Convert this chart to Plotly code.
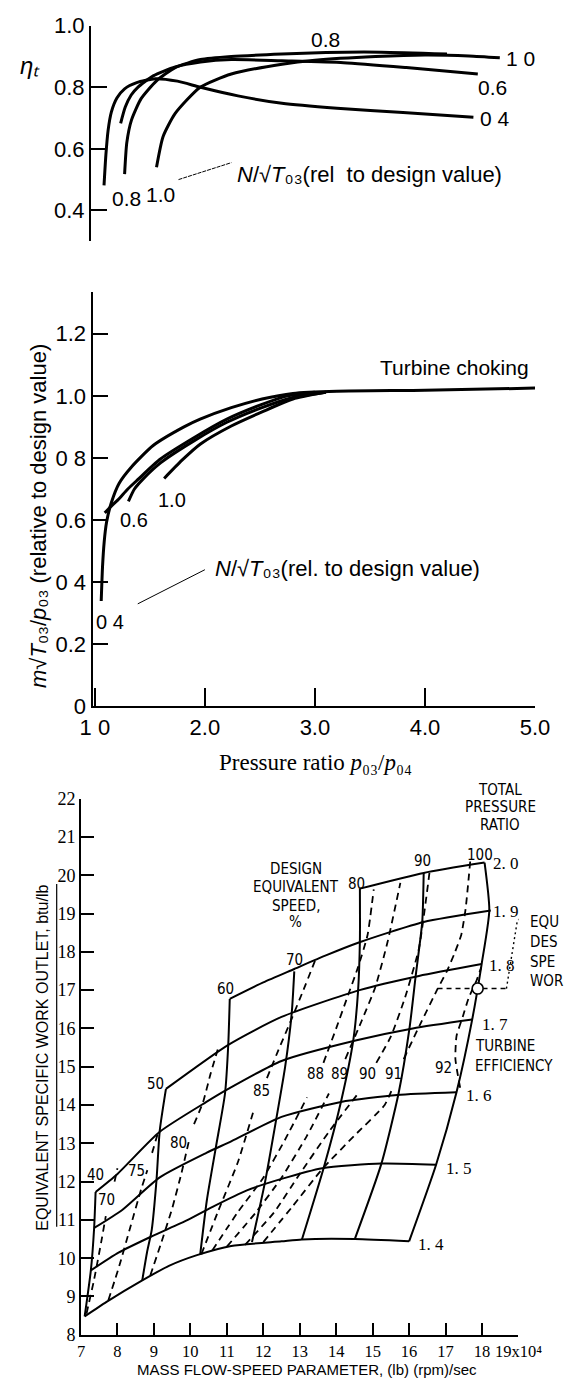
import plotly.graph_objects as go

W, H = 574, 1391

# ---------------- Panel 1: efficiency vs pressure ratio ----------------
eff_04_x = [1.083, 1.10, 1.12, 1.15, 1.20, 1.27, 1.38, 1.55, 1.75, 1.96, 2.3, 2.7, 3.2, 3.8, 4.44]
eff_04_y = [0.481, 0.58, 0.66, 0.72, 0.765, 0.795, 0.815, 0.828, 0.82, 0.80, 0.772, 0.748, 0.732, 0.718, 0.703]
eff_06_x = [1.234, 1.276, 1.33, 1.39, 1.53, 1.73, 1.96, 2.24, 2.7, 3.26, 3.83, 4.48]
eff_06_y = [0.683, 0.736, 0.775, 0.80, 0.837, 0.866, 0.882, 0.89, 0.886, 0.88, 0.864, 0.843]
eff_08_x = [1.27, 1.29, 1.333, 1.42, 1.56, 1.73, 1.96, 2.24, 2.7, 3.1, 3.6, 4.2]
eff_08_y = [0.518, 0.62, 0.694, 0.763, 0.821, 0.864, 0.89, 0.90, 0.908, 0.913, 0.914, 0.908]
eff_10_x = [1.56, 1.62, 1.73, 1.957, 2.24, 2.70, 3.0, 3.55, 4.0, 4.4, 4.68]
eff_10_y = [0.54, 0.64, 0.715, 0.80, 0.843, 0.875, 0.888, 0.90, 0.905, 0.902, 0.896]

# ---------------- Panel 2: mass flow vs pressure ratio ----------------
flow_04_x = [1.058, 1.07, 1.085, 1.106, 1.149, 1.22, 1.333, 1.53, 1.81, 1.957, 2.24, 2.52, 2.8, 3.2, 4.0, 5.0]
flow_04_y = [0.339, 0.45, 0.53, 0.592, 0.655, 0.718, 0.771, 0.84, 0.90, 0.925, 0.962, 0.99, 1.008, 1.015, 1.018, 1.025]
flow_05_x = [1.09, 1.15, 1.21, 1.30, 1.39, 1.59, 1.9, 2.2, 2.5, 2.75, 3.0]
flow_05_y = [0.623, 0.645, 0.665, 0.70, 0.73, 0.795, 0.865, 0.925, 0.97, 1.0, 1.012]
flow_06_x = [1.305, 1.36, 1.446, 1.6, 1.9, 2.2, 2.5, 2.8, 3.1]
flow_06_y = [0.66, 0.70, 0.735, 0.785, 0.855, 0.915, 0.96, 0.995, 1.012]
flow_10_x = [1.63, 1.79, 1.96, 2.24, 2.53, 2.8, 3.1]
flow_10_y = [0.734, 0.792, 0.845, 0.903, 0.95, 0.99, 1.012]

# ---------------- Panel 3: turbine map ----------------
# constant total-pressure-ratio lines (solid)
pr_labels = ["1. 4", "1. 5", "1. 6", "1. 7", "1. 8", "1. 9", "2. 0"]
pr_14 = ([7.10, 7.70, 8.68, 9.41, 10.18, 11.12, 12.50, 13.06, 14.51, 16.0],
         [8.48, 8.86, 9.42, 9.80, 10.08, 10.32, 10.44, 10.49, 10.50, 10.44])
pr_15 = ([7.27, 8.04, 8.94, 9.93, 10.61, 11.55, 12.50, 13.62, 15.24, 16.74],
         [9.68, 10.15, 10.57, 11.0, 11.34, 11.77, 12.07, 12.35, 12.47, 12.44])
pr_16 = ([7.36, 8.13, 9.16, 10.44, 11.12, 12.5, 14.13, 15.67, 17.30],
         [10.79, 11.26, 12.11, 12.75, 13.05, 13.69, 14.08, 14.26, 14.33])
pr_17 = ([7.40, 8.0, 9.16, 10.44, 11.04, 12.5, 14.56, 16.10, 17.73],
         [11.73, 12.2, 13.3, 14.08, 14.42, 15.15, 15.69, 16.0, 16.23])
pr_18 = ([9.33, 11.04, 12.50, 14.64, 16.27, 17.99],
         [14.42, 15.57, 16.3, 17.0, 17.37, 17.68])
pr_19 = ([11.08, 12.0, 12.85, 13.7, 14.64, 16.40, 18.24],
         [16.77, 17.2, 17.55, 17.9, 18.25, 18.78, 19.08])
pr_20 = ([14.65, 16.40, 18.07],
         [19.65, 20.06, 20.33])

# constant speed lines (solid), % of design equivalent speed
speed_labels = ["40", "50", "60", "70", "80", "90", "100"]
sp_40 = ([7.10, 7.27, 7.36, 7.40], [8.48, 9.68, 10.79, 11.73])
sp_50 = ([8.68, 8.81, 8.94, 9.07, 9.16, 9.33], [9.42, 10.15, 10.74, 12.03, 13.33, 14.42])
sp_60 = ([10.27, 10.45, 10.7, 10.95, 11.04, 11.08], [10.1, 11.5, 12.9, 14.3, 15.6, 16.77])
sp_70 = ([11.69, 12.05, 12.35, 12.6, 12.78, 12.85], [10.42, 12.0, 13.6, 15.0, 16.4, 17.49])
sp_80 = ([13.06, 13.66, 14.13, 14.47, 14.60, 14.65, 14.65], [10.49, 12.37, 14.08, 15.70, 16.98, 18.3, 19.65])
sp_90 = ([14.51, 15.24, 15.71, 16.01, 16.18, 16.36, 16.40], [10.5, 12.47, 14.3, 16.0, 17.37, 18.78, 20.06])
sp_100 = ([16.0, 16.74, 17.30, 17.73, 17.99, 18.2, 18.07], [10.44, 12.44, 14.33, 16.23, 17.68, 19.08, 20.33])

# turbine efficiency contours (dashed); each split where its label sits
eff_labels = ["70", "75", "80", "85", "88", "89", "90", "91", "92"]
ef_70 = [([7.15, 7.35, 7.55, 7.68], [8.55, 9.4, 10.4, 11.1]),
         ([7.92, 8.0], [12.0, 12.35])]
ef_75 = [([7.75, 8.05, 8.35, 8.65, 8.82], [8.9, 9.8, 10.8, 11.8, 12.3]),
         ([8.95, 9.12], [12.75, 13.3])]
ef_80 = [([8.9, 9.2, 9.5, 9.75, 9.97], [9.55, 10.4, 11.3, 12.2, 13.1]),
         ([10.1, 10.35, 10.55, 10.75], [13.5, 14.08, 14.8, 15.45])]
ef_85 = [([10.3, 10.75, 11.3, 11.75], [10.1, 11.2, 12.5, 13.9]),
         ([12.1, 12.4, 12.76, 13.1, 13.45], [14.7, 15.4, 16.21, 17.0, 17.84])]
ef_88 = [([10.6, 11.3, 12.0, 12.6, 13.2], [10.2, 11.2, 12.1, 13.1, 14.2]),
         ([13.65, 14.0, 14.3, 14.6, 14.86, 15.03], [15.1, 16.0, 16.8, 17.6, 18.44, 19.63])]
ef_89 = [([11.0, 11.8, 12.5, 13.2, 13.8], [10.3, 11.2, 12.1, 13.2, 14.3]),
         ([14.25, 14.7, 15.07, 15.41, 15.76], [15.2, 16.2, 17.07, 18.26, 19.8])]
ef_90 = [([11.5, 12.3, 13.0, 13.8, 14.6], [10.35, 11.2, 12.2, 13.3, 14.3]),
         ([15.1, 15.5, 15.89, 16.27, 16.57], [15.1, 15.79, 16.81, 18.09, 20.15])]
ef_91 = [([12.0, 12.8, 13.62, 14.5, 15.33, 15.55], [10.42, 11.35, 12.33, 13.2, 14.0, 14.45]),
         ([15.85, 16.3, 16.78, 17.04, 17.25, 17.43, 17.55, 17.68],
          [15.2, 16.1, 17.03, 17.5, 17.97, 18.44, 19.12, 20.4])]
ef_92 = [([17.40, 17.27, 17.3, 17.47, 17.64, 17.85, 17.98], [14.45, 15.2, 15.8, 16.3, 16.81, 17.25, 17.6])]

# design point
design_x, design_y = [17.88], [17.04]

fig = go.Figure()
BLK = "black"


def line(x, y, xa, ya, width=2.6, dash="solid", smooth=0.6):
    fig.add_trace(go.Scatter(x=x, y=y, mode="lines", xaxis=xa, yaxis=ya,
                             line=dict(color=BLK, width=width, dash=dash, shape="spline", smoothing=smooth),
                             hoverinfo="skip", showlegend=False))


for xs, ys in [(eff_04_x, eff_04_y), (eff_06_x, eff_06_y), (eff_08_x, eff_08_y), (eff_10_x, eff_10_y)]:
    line(xs, ys, "x", "y", 3.0)
for xs, ys in [(flow_04_x, flow_04_y), (flow_05_x, flow_05_y), (flow_06_x, flow_06_y), (flow_10_x, flow_10_y)]:
    line(xs, ys, "x2", "y2", 3.0)
for xs, ys in [pr_14, pr_15, pr_16, pr_17, pr_18, pr_19, pr_20,
               sp_40, sp_50, sp_60, sp_70, sp_80, sp_90, sp_100]:
    line(xs, ys, "x3", "y3", 2.0)
for contour in [ef_70, ef_75, ef_80, ef_85, ef_88, ef_89, ef_90, ef_91, ef_92]:
    for xs, ys in contour:
        line(xs, ys, "x3", "y3", 1.8, "7px,5px", 0.5)

# design point connector (equivalent design speed work)
fig.add_trace(go.Scatter(x=[16.78, 18.67], y=[17.04, 17.04], mode="lines", xaxis="x3", yaxis="y3",
                         line=dict(color=BLK, width=1.4, dash="5px,4px"), hoverinfo="skip", showlegend=False))
fig.add_trace(go.Scatter(x=[18.67, 18.97, 19.1], y=[17.04, 18.82, 18.9], mode="lines", xaxis="x3", yaxis="y3",
                         line=dict(color=BLK, width=1.4, dash="2px,3px"), hoverinfo="skip", showlegend=False,
                         cliponaxis=False))
fig.add_trace(go.Scatter(x=design_x, y=design_y, mode="markers", xaxis="x3", yaxis="y3",
                         marker=dict(size=11, color="white", line=dict(color=BLK, width=1.6)),
                         hoverinfo="skip", showlegend=False))


def px2paper_x(px):
    return px / W


def py2paper_y(py):
    return 1 - py / H


FS = "Liberation Sans, Arial, sans-serif"
NARROW = "Liberation Sans Narrow, DejaVu Sans Condensed, Liberation Sans, Arial, sans-serif"
SERIF = "Liberation Serif, Times New Roman, serif"

axcommon = dict(showgrid=False, zeroline=False, showline=True, linecolor=BLK, linewidth=2,
                ticks="inside", tickcolor=BLK, tickwidth=2, mirror=False, tickangle=0)

fig.update_layout(
    width=W, height=H, margin=dict(l=0, r=0, t=0, b=0),
    paper_bgcolor="white", plot_bgcolor="rgba(0,0,0,0)",
    showlegend=False,
    xaxis=dict(domain=[px2paper_x(83.3), px2paper_x(558)], range=[0.964, 5.0], visible=False, anchor="y"),
    yaxis=dict(domain=[py2paper_y(233), py2paper_y(14)], range=[0.301, 1.0], anchor="x",
               tickvals=[0.4, 0.6, 0.8, 1.0], ticktext=["0.4", "0.6", "0.8", "1.0"], ticklen=16,
               tickfont=dict(family=FS, size=22, color=BLK), **axcommon),
    xaxis2=dict(domain=[px2paper_x(85), px2paper_x(558)], range=[0.979, 5.0], anchor="y2",
                tickvals=[1, 2, 3, 4, 5], ticktext=["1 0", "2.0", "3.0", "4.0", "5.0"], ticklen=18,
                tickfont=dict(family=FS, size=22, color=BLK), **axcommon),
    yaxis2=dict(domain=[py2paper_y(707), py2paper_y(285)], range=[0, 1.335], anchor="x2",
                tickvals=[0, 0.2, 0.4, 0.6, 0.8, 1.0, 1.2],
                ticktext=["0", "0.2", "0 4", "0.6", "0 8", "1.0", "1.2"], ticklen=15,
                tickfont=dict(family=FS, size=22, color=BLK), **axcommon),
    xaxis3=dict(domain=[px2paper_x(72.7), px2paper_x(540.3)], range=[7, 19], anchor="y3",
                tickvals=list(range(7, 20)),
                ticktext=[str(v) for v in range(7, 19)] + ["19x10⁴"], ticklen=12,
                tickfont=dict(family=SERIF, size=16.5, color=BLK), **axcommon),
    yaxis3=dict(domain=[py2paper_y(1347), py2paper_y(801)], range=[8, 22], anchor="x3",
                tickvals=list(range(8, 23)), ticktext=[str(v) for v in range(8, 23)], ticklen=13,
                tickfont=dict(family=SERIF, size=18, color=BLK), **axcommon),
)

ann = []


def A(text, x, y, xref="paper", yref="paper", size=20, family=FS, xanchor="center", yanchor="middle", angle=0):
    ann.append(dict(text=text, x=x, y=y, xref=xref, yref=yref, showarrow=False, xanchor=xanchor,
                    yanchor=yanchor, textangle=angle, font=dict(family=family, size=size, color=BLK)))


# panel 1 texts
A("<i>ηₜ</i>", px2paper_x(18), py2paper_y(54), size=24)
A("0.8", 3.1, 0.955, "x", "y", 21)
A("1 0", 4.72, 0.895, "x", "y", 21, xanchor="left")
A("0.6", 4.46, 0.80, "x", "y", 21, xanchor="left")
A("0 4", 4.48, 0.70, "x", "y", 21, xanchor="left")
A("0.8", 1.29, 0.44, "x", "y", 21)
A("1.0", 1.60, 0.45, "x", "y", 21)
A("<i>N</i>/√<i>T</i>₀₃(rel  to design value)", 2.27, 0.515, "x", "y", 22, xanchor="left")
fig.add_trace(go.Scatter(x=[1.76, 2.24], y=[0.50, 0.555], mode="lines", xaxis="x", yaxis="y",
                         line=dict(color=BLK, width=1, dash="4px,1px"), hoverinfo="skip", showlegend=False))

# panel 2 texts
A("Turbine choking", 4.27, 1.09, "x2", "y2", 21)
A("0.6", 1.36, 0.60, "x2", "y2", 20)
A("1.0", 1.70, 0.665, "x2", "y2", 20)
A("0 4", 1.14, 0.27, "x2", "y2", 20)
A("<i>N</i>/√<i>T</i>₀₃(rel. to design value)", 2.07, 0.445, "x2", "y2", 22, xanchor="left")
fig.add_trace(go.Scatter(x=[1.39, 2.0], y=[0.33, 0.44], mode="lines", xaxis="x2", yaxis="y2",
                         line=dict(color=BLK, width=1), hoverinfo="skip", showlegend=False))
A("<i>m</i>√<i>T</i>₀₃/<i>p</i>₀₃ (relative to design value)",
  px2paper_x(28), py2paper_y(513), size=22, angle=-90)
A("Pressure ratio <i>p</i>₀₃/<i>p</i>₀₄", px2paper_x(323), py2paper_y(764), size=23, family=SERIF)

# panel 3 texts
for t, yy in [("TOTAL", 792), ("PRESSURE", 810), ("RATIO", 828)]:
    A(t, px2paper_x(521), py2paper_y(yy), size=15, family=NARROW)
for t, yy in [("DESIGN", 873), ("EQUIVALENT", 891.5), ("SPEED,", 910), ("%", 927)]:
    A(t, px2paper_x(302), py2paper_y(yy), size=15, family=NARROW)
for t, yy in [("TURBINE", 1053), ("EFFICIENCY", 1073)]:
    A(t, px2paper_x(492), py2paper_y(yy), size=15, family=NARROW, xanchor="left")
# clipped at the right edge of the page in the reference
for t, yy in [("EQU", 927), ("DES", 947), ("SPE", 967), ("WOR", 987)]:
    A(t, px2paper_x(550), py2paper_y(yy), size=15, family=NARROW, xanchor="left")

pr_pos = [(16.2, 10.35), (16.95, 12.35), (17.5, 14.25), (17.95, 16.1), (18.15, 17.65), (18.25, 19.05), (18.25, 20.3)]
for t, (xx, yy) in zip(pr_labels, pr_pos):
    A(t, xx, yy, "x3", "y3", 17, SERIF, xanchor="left")

speed_pos = [(7.40, 12.17), (9.03, 14.55), (10.95, 17.03), (12.85, 17.79), (14.56, 19.76), (16.36, 20.37), (17.94, 20.54)]
for t, (xx, yy) in zip(speed_labels, speed_pos):
    A(t, xx, yy, "x3", "y3", 15, NARROW)

eff_pos = [(7.70, 11.51), (8.52, 12.28), (9.67, 13.0), (11.94, 14.37), (13.43, 14.8), (14.1, 14.8),
           (14.86, 14.8), (15.58, 14.8), (16.95, 14.97)]
for t, (xx, yy) in zip(eff_labels, eff_pos):
    A(t, xx, yy, "x3", "y3", 15, NARROW)

A("EQUIVALENT SPECIFIC WORK OUTLET, btu/lb", px2paper_x(32), py2paper_y(1065), size=16, angle=-90)
A("MASS FLOW-SPEED PARAMETER, (lb) (rpm)/sec", px2paper_x(314), py2paper_y(1382), size=15)

fig.update_layout(annotations=ann)
fig.add_shape(type="line", xref="paper", yref="paper", x0=px2paper_x(46.7), x1=px2paper_x(46.7),
              y0=py2paper_y(888), y1=py2paper_y(1237), line=dict(color=BLK, width=1.2))

fig.write_html("out.html")
